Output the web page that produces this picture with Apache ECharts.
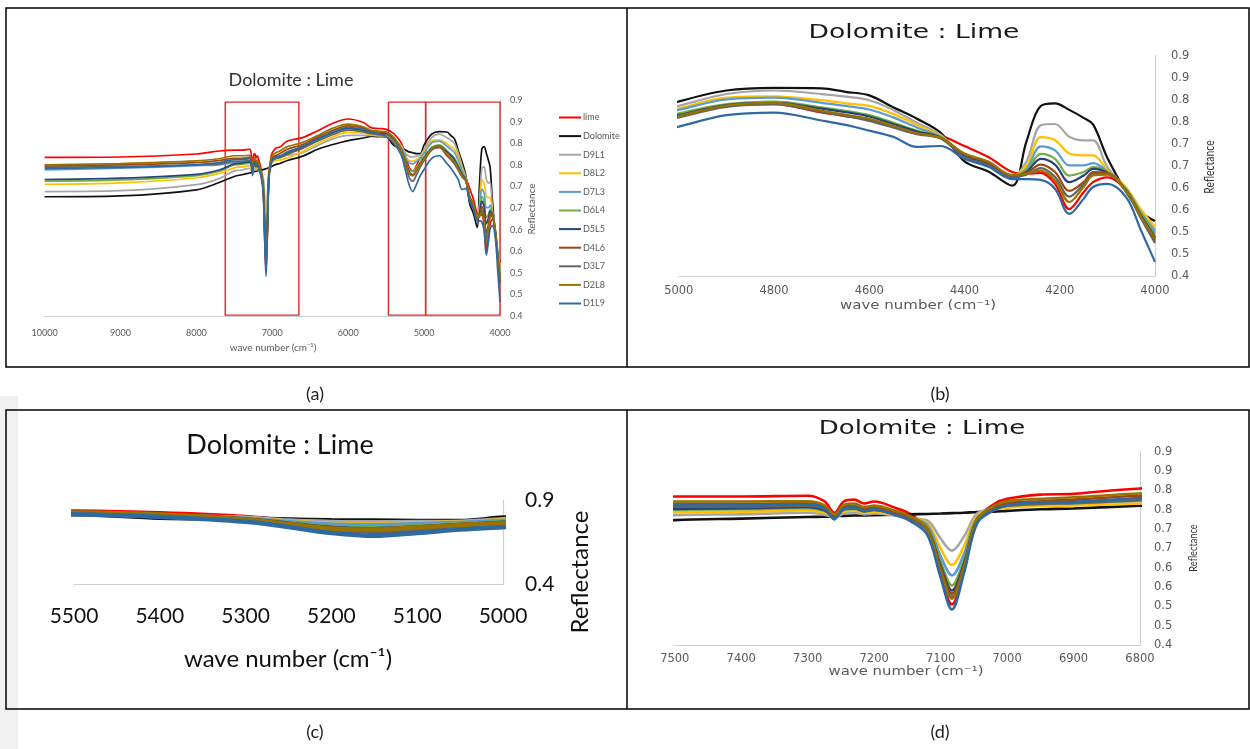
<!DOCTYPE html>
<html>
<head>
<meta charset="utf-8">
<script src="https://cdn.jsdelivr.net/npm/echarts@6/dist/echarts.min.js"></script>
<style>
html,body{margin:0;padding:0;background:#ffffff;}
#chart{width:1250px;height:749px;}
</style>
</head>
<body>
<div id="chart"></div>
<script>
// ---------------- DATA ----------------
const seriesNames = ['lime','Dolomite','D9L1','D8L2','D7L3','D6L4','D5L5','D4L6','D3L7','D2L8','D1L9'];
const seriesColors = ['#FF0000','#111111','#A5A5A5','#FFC000','#5B9BD5','#70AD47','#264478','#9E480E','#636363','#997300','#2E69A3'];

const waveNumber = [10000,9000,8000,7700,7500,7400,7300,7275,7260,7245,7230,7215,7200,7170,7145,7120,7100,7083,7065,7045,7020,7000,6950,6900,6800,6600,6400,6200,6000,5800,5700,5600,5500,5400,5300,5250,5200,5150,5100,5050,5000,4900,4800,4700,4650,4600,4550,4500,4450,4400,4350,4300,4270,4240,4210,4180,4150,4130,4100,4060,4030,4000];

const lime     = [.767,.768,.775,.782,.784,.784,.786,.772,.742,.772,.776,.766,.771,.756,.738,.700,.580,.505,.590,.725,.764,.778,.789,.791,.805,.813,.829,.846,.856,.848,.836,.834,.832,.822,.800,.775,.745,.735,.748,.765,.765,.786,.790,.771,.763,.754,.740,.724,.718,.695,.670,.636,.632,.634,.609,.552,.590,.613,.624,.592,.534,.480];
const dolomite = [.676,.678,.692,.709,.723,.727,.731,.732,.733,.734,.735,.735,.736,.737,.738,.739,.740,.741,.742,.744,.745,.747,.751,.753,.760,.770,.786,.797,.806,.812,.816,.815,.815,.795,.790,.785,.780,.778,.776,.776,.796,.821,.827,.826,.818,.810,.783,.757,.725,.660,.637,.605,.705,.786,.792,.777,.759,.744,.668,.590,.545,.525];
const d9l1     = [.688,.690,.704,.718,.736,.738,.742,.737,.731,.740,.742,.738,.740,.735,.728,.722,.675,.644,.680,.740,.752,.758,.764,.766,.772,.778,.795,.810,.818,.818,.818,.817,.818,.805,.795,.778,.770,.768,.770,.772,.786,.813,.821,.813,.807,.799,.777,.748,.720,.672,.650,.625,.660,.742,.745,.716,.708,.708,.647,.598,.548,.505];
const d8l2     = [.705,.708,.720,.730,.743,.745,.748,.742,.733,.745,.748,.742,.744,.738,.730,.715,.650,.607,.655,.735,.750,.755,.760,.761,.766,.781,.800,.815,.825,.823,.820,.818,.817,.806,.792,.772,.760,.758,.762,.768,.780,.805,.808,.799,.792,.786,.768,.743,.718,.675,.654,.628,.650,.715,.708,.678,.674,.674,.640,.600,.552,.512];
const d7l3     = [.738,.742,.748,.750,.755,.756,.758,.750,.733,.752,.755,.748,.751,.740,.730,.710,.630,.580,.635,.730,.752,.762,.768,.770,.778,.792,.810,.825,.834,.830,.824,.822,.822,.810,.790,.770,.755,.752,.758,.765,.777,.801,.805,.793,.786,.778,.760,.737,.716,.675,.655,.627,.643,.694,.685,.651,.651,.656,.637,.597,.545,.500];
const d6l4     = [.712,.715,.725,.735,.750,.751,.754,.747,.732,.750,.752,.745,.749,.739,.728,.705,.615,.554,.620,.728,.750,.760,.765,.767,.774,.790,.808,.822,.832,.828,.823,.820,.820,.808,.785,.762,.740,.735,.745,.757,.769,.790,.796,.783,.775,.765,.748,.730,.715,.676,.657,.628,.640,.677,.666,.628,.636,.647,.637,.596,.542,.495];
const d5l5     = [.716,.719,.728,.738,.752,.754,.757,.749,.730,.752,.754,.746,.750,.739,.727,.700,.605,.541,.610,.725,.752,.762,.768,.770,.776,.792,.810,.825,.835,.830,.825,.822,.822,.810,.785,.760,.735,.727,.738,.752,.765,.788,.793,.780,.772,.762,.745,.728,.714,.672,.654,.626,.636,.666,.653,.613,.628,.643,.634,.593,.538,.488];
const d4l6     = [.747,.750,.755,.760,.765,.765,.767,.757,.735,.758,.760,.752,.756,.744,.730,.700,.600,.533,.605,.725,.755,.767,.772,.776,.786,.797,.815,.830,.840,.835,.828,.826,.825,.812,.783,.757,.732,.725,.737,.752,.762,.786,.792,.774,.765,.755,.740,.724,.713,.677,.658,.628,.634,.653,.636,.593,.613,.636,.634,.592,.536,.485];
const d3l7     = [.744,.746,.750,.752,.758,.758,.760,.752,.728,.752,.754,.747,.750,.738,.725,.695,.590,.525,.600,.722,.750,.760,.765,.767,.775,.788,.805,.820,.830,.826,.822,.820,.820,.807,.780,.752,.722,.712,.727,.745,.760,.784,.790,.772,.763,.752,.737,.722,.712,.670,.652,.624,.630,.645,.625,.580,.608,.632,.632,.590,.532,.475];
const d2l8     = [.750,.753,.759,.764,.771,.771,.772,.762,.738,.763,.766,.757,.761,.748,.733,.700,.590,.520,.598,.725,.760,.772,.778,.782,.792,.802,.818,.835,.844,.838,.830,.828,.826,.814,.785,.758,.730,.725,.738,.752,.763,.787,.793,.775,.766,.757,.741,.724,.713,.678,.660,.629,.632,.639,.617,.568,.602,.628,.630,.592,.535,.485];
const d1l9     = [.741,.744,.750,.755,.762,.762,.764,.754,.725,.754,.756,.748,.751,.737,.720,.685,.575,.492,.585,.715,.748,.761,.769,.770,.780,.793,.810,.826,.836,.832,.826,.822,.815,.800,.772,.740,.705,.688,.705,.725,.739,.765,.771,.753,.743,.730,.716,.693,.695,.666,.648,.620,.620,.618,.598,.541,.575,.602,.609,.578,.505,.432];

const seriesValues = [lime,dolomite,d9l1,d8l2,d7l3,d6l4,d5l5,d4l6,d3l7,d2l8,d1l9];

// Excel-style rounded tick labels for 0.4 .. 0.9 step 0.05
const yTickLabels = ['0.4','0.5','0.5','0.6','0.6','0.7','0.7','0.8','0.8','0.9','0.9'];
const yTickLabelsC = ['0.4','0.9'];
// red rectangles in panel (a): wave-number ranges, reflectance range
const redBoxes = [[7620,6650],[5470,4980],[4980,4000]];
const redBoxRange = [0.402,0.895];

// ---------------- LAYOUT ----------------
const FA = 'Lato, "Open Sans", sans-serif';
const FB = '"DejaVu Sans", Verdana, sans-serif';

const panels = [
  {grid:{left:44.6, top:100, width:455.4, height:216}, xMin:4000, xMax:10000, xInt:1000, yInt:0.05, labels:yTickLabels,
   lw:1.7, font:FA, fs:9, color:'#595959', xMargin:13, yMargin:10},
  {grid:{left:678.8, top:55.7, width:476.2, height:220.3}, xMin:4000, xMax:5000, xInt:200, yInt:0.05, labels:yTickLabels,
   lw:2.2, font:FB, fs:11.5, color:'#595959', xMargin:9, yMargin:16},
  {grid:{left:74, top:500, width:429, height:84.5}, xMin:5000, xMax:5500, xInt:100, yInt:0.5, labels:yTickLabelsC,
   lw:4.5, font:FA, fs:21, color:'#111111', xMargin:21, yMargin:22},
  {grid:{left:674.8, top:451.7, width:465.2, height:193.3}, xMin:6800, xMax:7500, xInt:100, yInt:0.05, labels:yTickLabels,
   lw:2.6, font:FB, fs:11.5, color:'#595959', xMargin:8, yMargin:14}
];

const grids = [], xAxes = [], yAxes = [], series = [];
panels.forEach((p, pi) => {
  grids.push(Object.assign({containLabel:false}, p.grid));
  xAxes.push({
    gridIndex: pi, type:'value', inverse:true, min:p.xMin, max:p.xMax, interval:p.xInt,
    axisLine:{show:true, onZero:false, lineStyle:{color:'#d0d0d0', width:1.2}},
    axisTick:{show:false}, splitLine:{show:false},
    axisLabel:{margin:p.xMargin, fontSize:p.fs, fontFamily:p.font, color:p.color, formatter:v => String(v)}
  });
  yAxes.push({
    gridIndex: pi, type:'value', position:'right', min:0.4, max:0.9, interval:p.yInt,
    axisLine:{show:true, onZero:false, lineStyle:{color:'#d0d0d0', width:1.2}},
    axisTick:{show:false}, splitLine:{show:false},
    axisLabel:{margin:p.yMargin, fontSize:p.fs, fontFamily:p.font, color:p.color, align:'left',
      formatter:v => p.labels[Math.round((v - 0.4) / p.yInt)]}
  });
  seriesNames.forEach((name, si) => {
    series.push({
      type:'line', name:name, xAxisIndex:pi, yAxisIndex:pi,
      data: waveNumber.map((w, i) => [w, seriesValues[si][i]]),
      showSymbol:false, symbol:'none', smooth:0.35, clip:true, silent:true,
      lineStyle:{width:p.lw, color:seriesColors[si]}, itemStyle:{color:seriesColors[si]},
      z: 2
    });
  });
});

// red boxes on panel (a)
series.push({
  type:'line', name:'boxes', xAxisIndex:0, yAxisIndex:0, data:[], silent:true, z:10,
  markArea:{silent:true,
    itemStyle:{color:'rgba(0,0,0,0)', borderColor:'#E0262B', borderWidth:1.4},
    data: redBoxes.map(b => [{xAxis:b[0], yAxis:redBoxRange[0]}, {xAxis:b[1], yAxis:redBoxRange[1]}])
  }
});

function txt(x, y, text, font, fill, extra) {
  return Object.assign({
    type:'text', x:x, y:y, silent:true, z:20,
    style:{text:text, font:font, fill:fill, textAlign:'center', textVerticalAlign:'middle', align:'center', verticalAlign:'middle'}
  }, extra || {});
}

const graphics = [
  {type:'rect', shape:{x:0, y:396, width:18, height:353}, style:{fill:'#f0f0f0'}, z:0, silent:true},
  {type:'rect', shape:{x:6, y:8, width:1243, height:359}, style:{fill:'none', stroke:'#000', lineWidth:1.5}, z:30, silent:true},
  {type:'line', shape:{x1:627, y1:8, x2:627, y2:367}, style:{stroke:'#000', lineWidth:1.5}, z:30, silent:true},
  {type:'rect', shape:{x:6, y:410, width:1243, height:299}, style:{fill:'none', stroke:'#000', lineWidth:1.5}, z:30, silent:true},
  {type:'line', shape:{x1:627, y1:410, x2:627, y2:709}, style:{stroke:'#000', lineWidth:1.5}, z:30, silent:true},
  // panel letters
  txt(315, 394, '(a)', '18px ' + FA, '#222'),
  txt(940, 394, '(b)', '18px ' + FA, '#222'),
  txt(315, 732, '(c)', '18px ' + FA, '#222'),
  txt(940, 732, '(d)', '18px ' + FA, '#222'),
  // titles
  txt(291, 80, 'Dolomite : Lime', '18px ' + FA, '#333'),
  txt(914, 33, 'Dolomite : Lime', '19px ' + FB, '#1a1a1a', {scaleX:1.4}),
  txt(280, 445, 'Dolomite : Lime', '27px ' + FA, '#111'),
  txt(922, 429, 'Dolomite : Lime', '19px ' + FB, '#1a1a1a', {scaleX:1.37}),
  // x axis titles
  txt(273, 348, 'wave number (cm\u207B\u00B9)', '10px ' + FA, '#595959'),
  txt(918, 306, 'wave number (cm\u207B\u00B9)', '12px ' + FB, '#595959', {scaleX:1.25}),
  txt(288, 659, 'wave number (cm\u207B\u00B9)', '24px ' + FA, '#111'),
  txt(906, 672, 'wave number (cm\u207B\u00B9)', '12px ' + FB, '#595959', {scaleX:1.24}),
  // y axis titles
  txt(532, 209, 'Reflectance', '10px ' + FA, '#595959', {rotation:Math.PI/2}),
  txt(1210, 167, 'Reflectance', '13px ' + FA, '#333', {rotation:Math.PI/2, scaleX:0.8}),
  txt(580, 572, 'Reflectance', '24px ' + FA, '#111', {rotation:Math.PI/2}),
  txt(1193, 548, 'Reflectance', '12px ' + FA, '#333', {rotation:Math.PI/2, scaleX:0.77})
];

const chart = echarts.init(document.getElementById('chart'), null, {renderer:'canvas', width:1250, height:749});
chart.setOption({
  animation:false,
  backgroundColor:'#ffffff',
  grid: grids,
  xAxis: xAxes,
  yAxis: yAxes,
  legend:{
    data: seriesNames, orient:'vertical', left:554, top:108, icon:'rect',
    itemWidth:22, itemHeight:2, itemGap:9.6, selectedMode:false,
    textStyle:{fontSize:9, fontFamily:FA, color:'#595959', padding:[0,0,0,-3]}
  },
  series: series,
  graphic: graphics
});
</script>
</body>
</html>
